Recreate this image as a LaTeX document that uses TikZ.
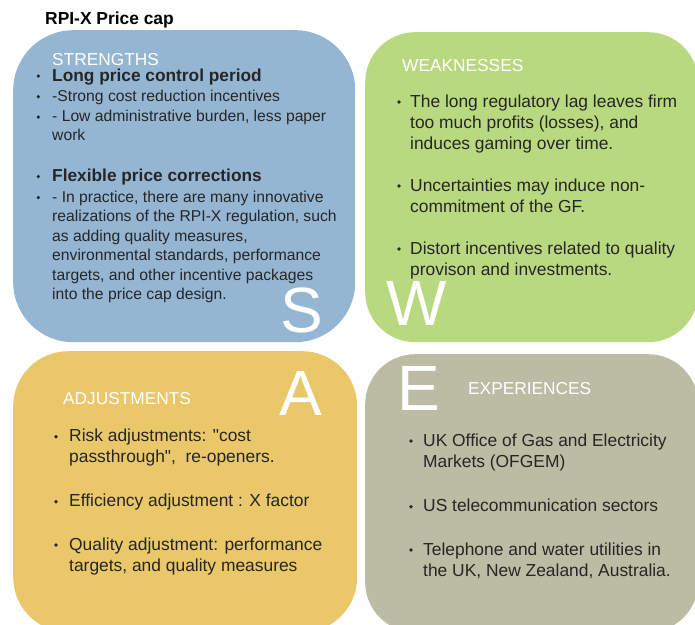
\documentclass[tikz,border=0pt]{standalone}
\usepackage{fontspec}
\setmainfont{Liberation Sans}
\newfontfamily\qfont{Liberation Sans}

\definecolor{sblue}{HTML}{94B6D3}
\definecolor{wgreen}{HTML}{B8D980}
\definecolor{ayellow}{HTML}{EAC769}
\definecolor{egrey}{HTML}{BBBCA3}
\definecolor{ink}{HTML}{262626}

\tikzset{
  card/.style={rounded corners=#1, inner sep=0, anchor=north west},
  head/.style={anchor=base west, inner sep=0, text=white, font=\fontsize{17.3}{20}\selectfont},
  body/.style={anchor=base west, inner sep=0, text=ink, align=left, font=\fontsize{17.4}{21}\selectfont},
  small/.style={body, font=\fontsize{15.7}{19.4}\selectfont},
  strong/.style={body, font=\bfseries\fontsize{17.3}{20}\selectfont},
  dot/.style={circle, fill=ink, inner sep=0, minimum size=3.6pt},
  letter/.style={anchor=base west, inner sep=0, text=white, font=\fontsize{64}{64}\selectfont}
}

\begin{document}
\begin{tikzpicture}[x=1pt,y=-1pt]
\useasboundingbox (0,0) rectangle (695,624);
\clip (0,0) rectangle (695,624);

% the four cards
\node[card=60, fill=sblue, minimum width=342, minimum height=312] (sbox) at (13,30) {};
\node[card=50, fill=wgreen, minimum width=333, minimum height=310] (wbox) at (365,32) {};
\node[card=55, fill=ayellow, minimum width=344, minimum height=281] (abox) at (13,351) {};
\node[card=50, fill=egrey, minimum width=333, minimum height=278] (ebox) at (365,354) {};

\node[body, font=\bfseries\fontsize{17.4}{20}\selectfont, text=black] (title) at (45,24) {RPI-X Price cap};

% strengths (multi-line nodes sit on their last line)
\node[head] (shead) at (52,65) {STRENGTHS};
\node[strong] (s1) at (52,81) {Long price control period};
\node[small] (s2) at (52,101.8) {-Strong cost reduction incentives};
\node[small] (s3) at (52,140.9) {- Low administrative burden, less paper\\work};
\node[strong] (s4) at (52,181.7) {Flexible price corrections};
\node[small] (s5) at (52,299.5) {- In practice, there are many innovative\\realizations of the RPI-X regulation, such\\as adding quality measures,\\environmental standards, performance\\targets, and other incentive packages\\into the price cap design.};
\node[dot] (sd1) at (38.3,76) {};
\node[dot] (sd2) at (38.3,96.7) {};
\node[dot] (sd3) at (38.3,117) {};
\node[dot] (sd4) at (38.3,176.5) {};
\node[dot] (sd5) at (38.3,197.5) {};
\node[letter] (sS) at (280,332) {S};

% weaknesses
\node[head] (whead) at (402,71) {WEAKNESSES};
\node[body] (w1) at (410,149) {The long regulatory lag leaves firm\\too much profits (losses), and\\induces gaming over time.};
\node[body] (w2) at (410,212) {Uncertainties may induce non-\\commitment of the GF.};
\node[body] (w3) at (410,275) {Distort incentives related to quality\\provison and investments.};
\node[dot] (wd1) at (399,102) {};
\node[dot] (wd2) at (399,186) {};
\node[dot] (wd3) at (399,249) {};
\node[letter] (wW) at (386,325) {W};

% adjustments
\node[head] (ahead) at (63,404) {ADJUSTMENTS};
\node[body] (a1) at (69,462.2) {Risk adjustments: {\qfont"}cost\\passthrough{\qfont"}, \ re-openers.};
\node[body] (a2) at (69,506.7) {Efficiency adjustment : X factor};
\node[body] (a3) at (69,571) {Quality adjustment: performance\\targets, and quality measures};
\node[dot] (ad1) at (56,436.7) {};
\node[dot] (ad2) at (56,501.7) {};
\node[dot] (ad3) at (56,545) {};
\node[letter] (aA) at (279,415) {A};

% experiences
\node[head] (ehead) at (468,394) {EXPERIENCES};
\node[body] (e1) at (423,467) {UK Office of Gas and Electricity\\Markets (OFGEM)};
\node[body] (e2) at (423,511.7) {US telecommunication sectors};
\node[body] (e3) at (423,576) {Telephone and water utilities in\\the UK, New Zealand, Australia.};
\node[dot] (ed1) at (411,441) {};
\node[dot] (ed2) at (411,506.7) {};
\node[dot] (ed3) at (411,550) {};
\node[letter] (eE) at (397,410.7) {E};
\end{tikzpicture}
\end{document}
